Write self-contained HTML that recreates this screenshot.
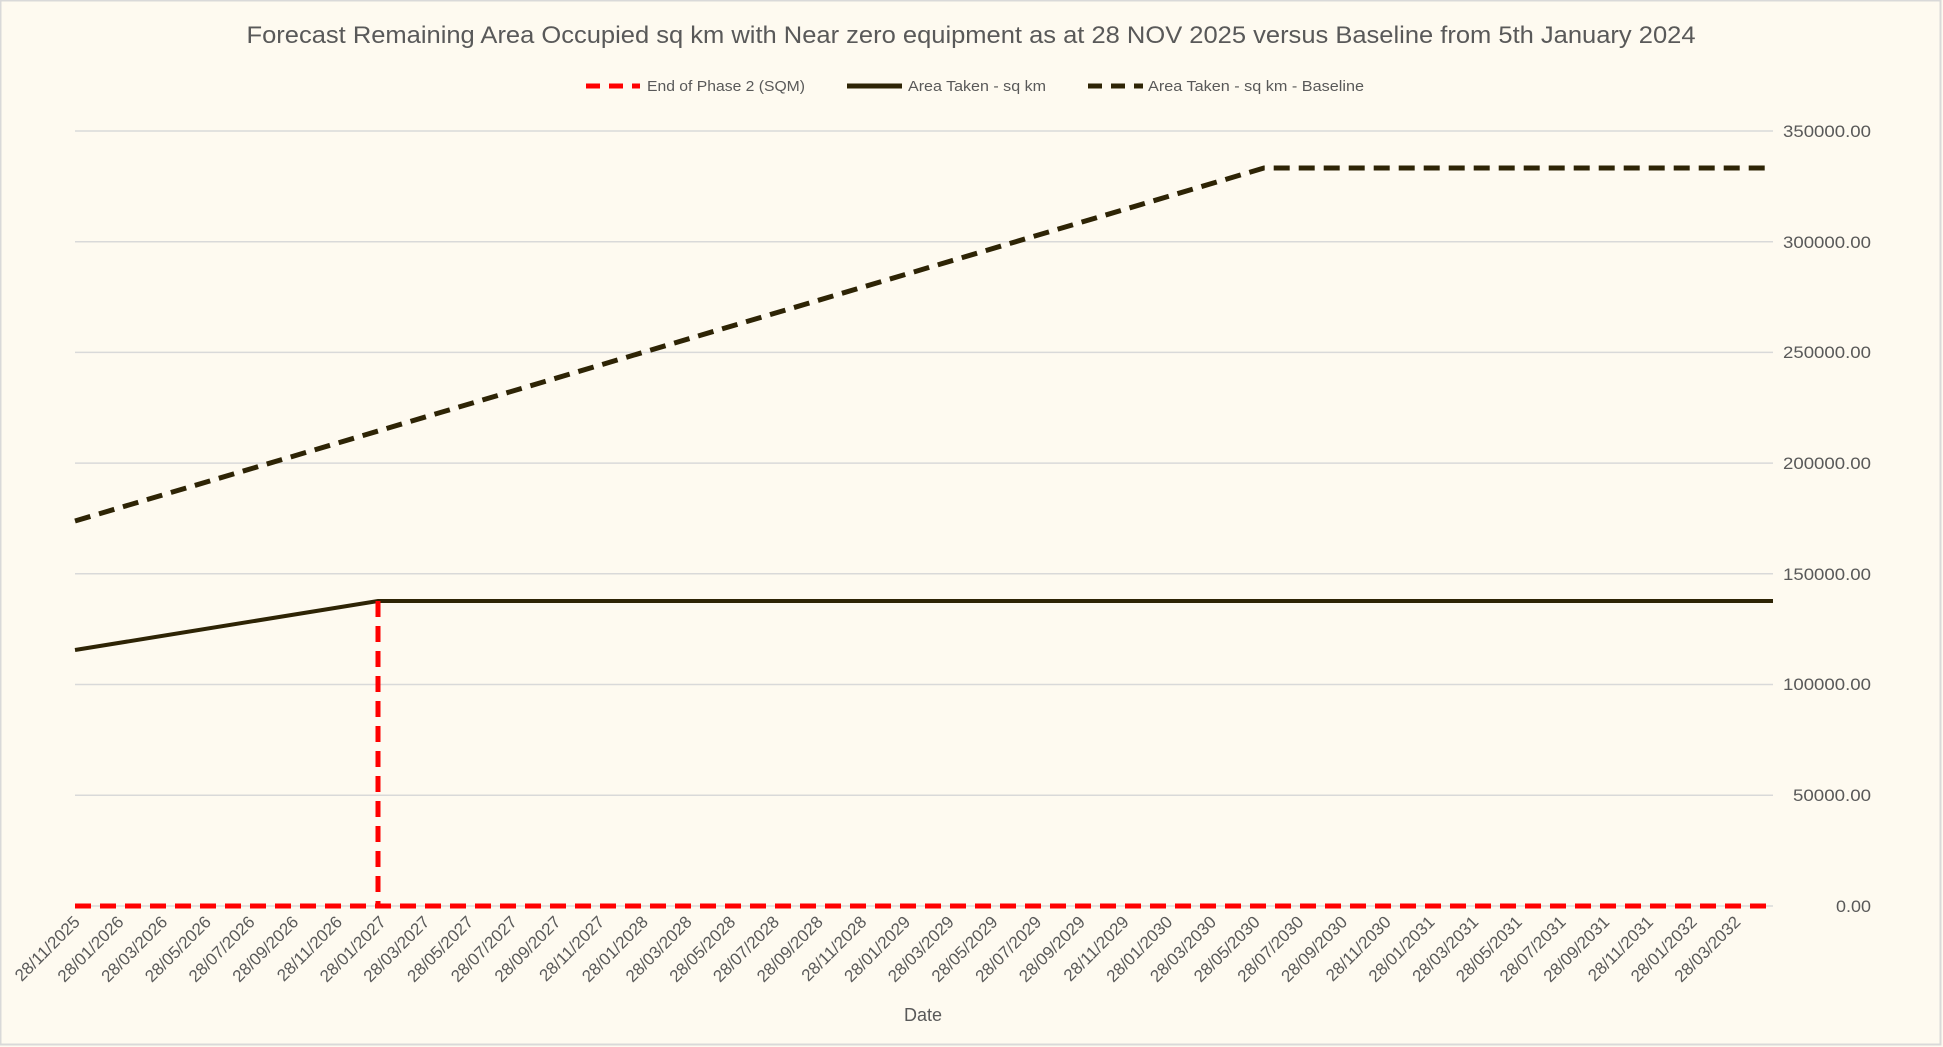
<!DOCTYPE html>
<html><head><meta charset="utf-8"><style>
html,body{margin:0;padding:0;background:#fefaf0;}
svg{display:block;}
text{font-family:"Liberation Sans",sans-serif;fill:#595959;}
</style></head><body>
<svg width="1943" height="1047" viewBox="0 0 1943 1047" xmlns="http://www.w3.org/2000/svg">
<rect x="0.5" y="0.5" width="1940" height="1044" fill="#fefaf0" stroke="#d9d9d9" stroke-width="2"/>
<text x="971" y="43" font-size="24" text-anchor="middle" textLength="1449" lengthAdjust="spacingAndGlyphs">Forecast Remaining Area Occupied sq km with Near zero equipment as at 28 NOV 2025 versus Baseline from 5th January 2024</text>
<line x1="586" y1="86" x2="640" y2="86" stroke="#ff0000" stroke-width="5" stroke-dasharray="14,9"/>
<text x="647" y="91" font-size="15" textLength="158" lengthAdjust="spacingAndGlyphs">End of Phase 2 (SQM)</text>
<line x1="847" y1="86" x2="902" y2="86" stroke="#2e2405" stroke-width="5"/>
<text x="908" y="91" font-size="15" textLength="138" lengthAdjust="spacingAndGlyphs">Area Taken - sq km</text>
<line x1="1088" y1="86" x2="1143" y2="86" stroke="#2e2405" stroke-width="5" stroke-dasharray="14,9"/>
<text x="1148" y="91" font-size="15" textLength="216" lengthAdjust="spacingAndGlyphs">Area Taken - sq km - Baseline</text>
<g stroke="#d9d9d9" stroke-width="1.5">
<line x1="75" y1="131" x2="1773" y2="131"/>
<line x1="75" y1="241.7" x2="1773" y2="241.7"/>
<line x1="75" y1="352.4" x2="1773" y2="352.4"/>
<line x1="75" y1="463.1" x2="1773" y2="463.1"/>
<line x1="75" y1="573.8" x2="1773" y2="573.8"/>
<line x1="75" y1="684.5" x2="1773" y2="684.5"/>
<line x1="75" y1="795.2" x2="1773" y2="795.2"/>
<line x1="75" y1="906" x2="1773" y2="906"/>
</g>
<g font-size="17" text-anchor="end">
<text x="1871" y="137" textLength="88" lengthAdjust="spacingAndGlyphs">350000.00</text>
<text x="1871" y="248" textLength="88" lengthAdjust="spacingAndGlyphs">300000.00</text>
<text x="1871" y="358" textLength="88" lengthAdjust="spacingAndGlyphs">250000.00</text>
<text x="1871" y="469" textLength="88" lengthAdjust="spacingAndGlyphs">200000.00</text>
<text x="1871" y="580" textLength="88" lengthAdjust="spacingAndGlyphs">150000.00</text>
<text x="1871" y="690" textLength="88" lengthAdjust="spacingAndGlyphs">100000.00</text>
<text x="1871" y="801" textLength="78" lengthAdjust="spacingAndGlyphs">50000.00</text>
<text x="1871" y="912" textLength="35" lengthAdjust="spacingAndGlyphs">0.00</text>
</g>
<polyline points="75,521 1264,168 1773,168" fill="none" stroke="#2e2405" stroke-width="5" stroke-dasharray="16,9"/>
<polyline points="75,650 378,601 1773,601" fill="none" stroke="#2e2405" stroke-width="4"/>
<line x1="75" y1="906" x2="1773" y2="906" stroke="#ff0000" stroke-width="5" stroke-dasharray="16,9"/>
<line x1="378" y1="601" x2="378" y2="906" stroke="#ff0000" stroke-width="5" stroke-dasharray="16,9"/>
<g font-size="17" text-anchor="end">
<text transform="translate(81,923) rotate(-45)">28/11/2025</text>
<text transform="translate(124.7,923) rotate(-45)">28/01/2026</text>
<text transform="translate(168.4,923) rotate(-45)">28/03/2026</text>
<text transform="translate(212.1,923) rotate(-45)">28/05/2026</text>
<text transform="translate(255.8,923) rotate(-45)">28/07/2026</text>
<text transform="translate(299.5,923) rotate(-45)">28/09/2026</text>
<text transform="translate(343.2,923) rotate(-45)">28/11/2026</text>
<text transform="translate(386.9,923) rotate(-45)">28/01/2027</text>
<text transform="translate(430.6,923) rotate(-45)">28/03/2027</text>
<text transform="translate(474.3,923) rotate(-45)">28/05/2027</text>
<text transform="translate(518,923) rotate(-45)">28/07/2027</text>
<text transform="translate(561.7,923) rotate(-45)">28/09/2027</text>
<text transform="translate(605.4,923) rotate(-45)">28/11/2027</text>
<text transform="translate(649.1,923) rotate(-45)">28/01/2028</text>
<text transform="translate(692.8,923) rotate(-45)">28/03/2028</text>
<text transform="translate(736.5,923) rotate(-45)">28/05/2028</text>
<text transform="translate(780.2,923) rotate(-45)">28/07/2028</text>
<text transform="translate(823.9,923) rotate(-45)">28/09/2028</text>
<text transform="translate(867.6,923) rotate(-45)">28/11/2028</text>
<text transform="translate(911.3,923) rotate(-45)">28/01/2029</text>
<text transform="translate(955,923) rotate(-45)">28/03/2029</text>
<text transform="translate(998.7,923) rotate(-45)">28/05/2029</text>
<text transform="translate(1042.4,923) rotate(-45)">28/07/2029</text>
<text transform="translate(1086.1,923) rotate(-45)">28/09/2029</text>
<text transform="translate(1129.8,923) rotate(-45)">28/11/2029</text>
<text transform="translate(1173.5,923) rotate(-45)">28/01/2030</text>
<text transform="translate(1217.2,923) rotate(-45)">28/03/2030</text>
<text transform="translate(1260.9,923) rotate(-45)">28/05/2030</text>
<text transform="translate(1304.6,923) rotate(-45)">28/07/2030</text>
<text transform="translate(1348.3,923) rotate(-45)">28/09/2030</text>
<text transform="translate(1392,923) rotate(-45)">28/11/2030</text>
<text transform="translate(1435.7,923) rotate(-45)">28/01/2031</text>
<text transform="translate(1479.4,923) rotate(-45)">28/03/2031</text>
<text transform="translate(1523.1,923) rotate(-45)">28/05/2031</text>
<text transform="translate(1566.8,923) rotate(-45)">28/07/2031</text>
<text transform="translate(1610.5,923) rotate(-45)">28/09/2031</text>
<text transform="translate(1654.2,923) rotate(-45)">28/11/2031</text>
<text transform="translate(1697.9,923) rotate(-45)">28/01/2032</text>
<text transform="translate(1741.6,923) rotate(-45)">28/03/2032</text>
</g>
<text x="923" y="1021" font-size="18" text-anchor="middle">Date</text>
</svg>
</body></html>
